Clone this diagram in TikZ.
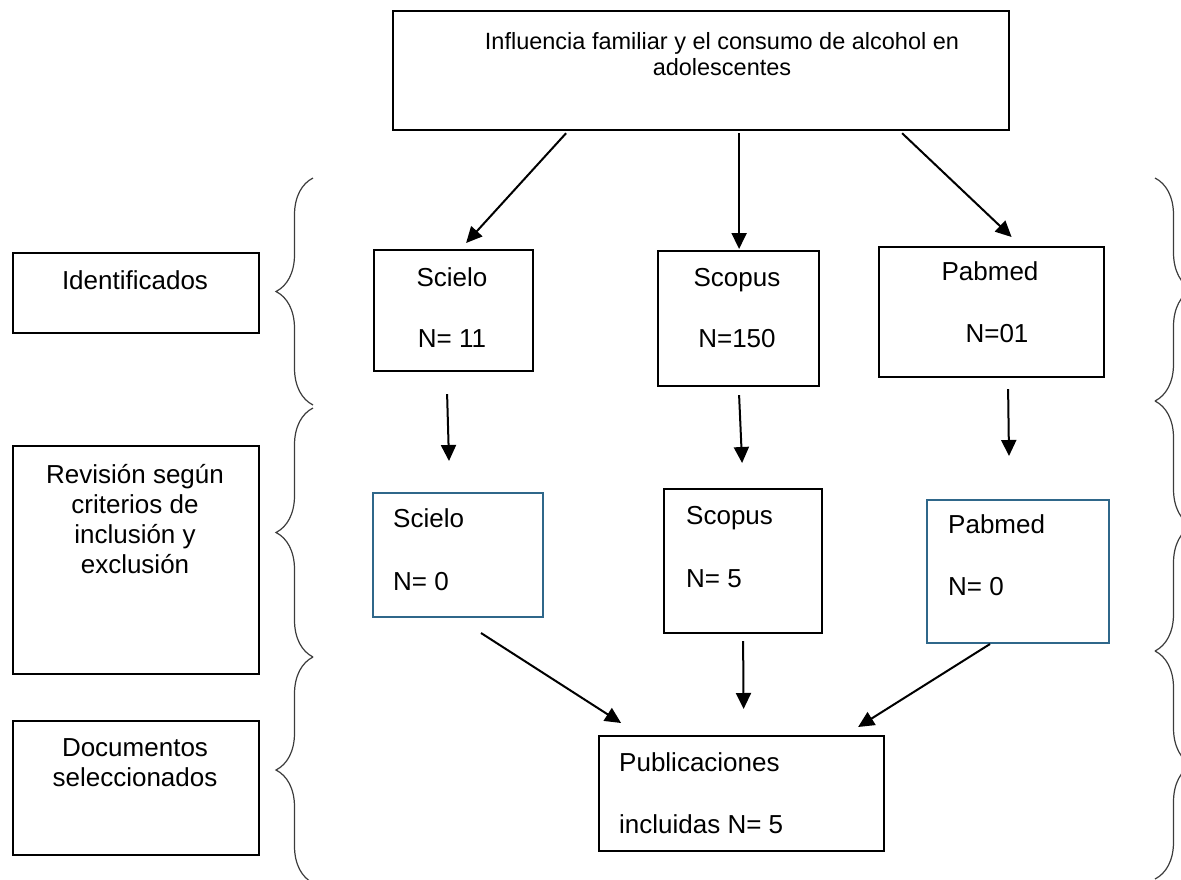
\documentclass[tikz,border=0pt]{standalone}
\usepackage{fontspec}
\setmainfont{Liberation Sans}
\usetikzlibrary{arrows.meta,decorations.pathreplacing}
\definecolor{boxblue}{RGB}{47,103,138}
\definecolor{bracegray}{RGB}{60,60,60}
\tikzset{
  bx/.style={draw=black, line width=2.2pt, fill=none, inner sep=0pt, anchor=north west},
  bluebx/.style={draw=boxblue, line width=2pt, fill=none, inner sep=0pt, anchor=north west},
  txt/.style={inner sep=0pt, font=\fontsize{26}{30}\selectfont},
  ttxt/.style={inner sep=0pt, font=\fontsize{23.5}{26.5}\selectfont, align=center},
  arr/.style={line width=2pt, -{Triangle[length=16pt,width=15pt]}},
  brc/.style={draw=bracegray, line width=1.2pt, decorate, decoration={brace, amplitude=37pt}}
}
\begin{document}
\begin{tikzpicture}[x=1pt,y=-1pt]
\useasboundingbox (0,0) rectangle (1181,879);
% boxes
\node[bx, minimum width=616pt, minimum height=119pt] (title) at (392,10) {};
\node[bx, minimum width=246pt, minimum height=80pt] (ident) at (12,252) {};
\node[bx, minimum width=246pt, minimum height=228pt] (rev) at (12,445) {};
\node[bx, minimum width=246pt, minimum height=134pt] (doc) at (12,720) {};
\node[bx, minimum width=159pt, minimum height=121pt] (s1) at (373,249) {};
\node[bx, minimum width=161pt, minimum height=135pt] (c1) at (657,250) {};
\node[bx, minimum width=225pt, minimum height=130pt] (p1) at (878,246) {};
\node[bluebx, minimum width=170pt, minimum height=124pt] (s2) at (372,492) {};
\node[bx, minimum width=158pt, minimum height=144pt] (c2) at (663,488) {};
\node[bluebx, minimum width=182pt, minimum height=143pt] (p2) at (926,499) {};
\node[bx, minimum width=285pt, minimum height=115pt] (pub) at (598,735) {};
% texts
\node[ttxt] (titlet) at (722,54) {Influencia familiar y el consumo de alcohol en\\adolescentes};
\node[txt, anchor=base] (identt) at (135,289.5) {Identificados};
\node[txt, align=center] (revt) at (135,519) {Revisión según\\criterios de\\inclusión y\\exclusión};
\node[txt, align=center] (doct) at (135,763) {Documentos\\seleccionados};
\node[txt, anchor=base] (s1a) at (452,286.5) {Scielo};
\node[txt, anchor=base] (s1b) at (452,347.5) {N= 11};
\node[txt, anchor=base] (c1a) at (737,286.5) {Scopus};
\node[txt, anchor=base] (c1b) at (737,347.5) {N=150};
\node[txt, anchor=base] (p1a) at (990,280.5) {Pabmed};
\node[txt, anchor=base] (p1b) at (997,342.5) {N=01};
\node[txt, anchor=base west] (s2a) at (393,527) {Scielo};
\node[txt, anchor=base west] (s2b) at (393,590.5) {N= 0};
\node[txt, anchor=base west] (c2a) at (686,524.5) {Scopus};
\node[txt, anchor=base west] (c2b) at (686,587.5) {N= 5};
\node[txt, anchor=base west] (p2a) at (948,533.5) {Pabmed};
\node[txt, anchor=base west] (p2b) at (948,595.5) {N= 0};
\node[txt, anchor=base west] (puba) at (619,771) {Publicaciones};
\node[txt, anchor=base west] (pubb) at (619,833) {incluidas N= 5};
% arrows
\draw[arr] ([xshift=-135pt,yshift=-2pt]title.south) -- ([xshift=12.5pt,yshift=6pt]s1.north);
\draw[arr] ([xshift=38pt,yshift=-2pt]title.south) -- ([xshift=0.5pt,yshift=1pt]c1.north);
\draw[arr] ([xshift=201pt,yshift=-2pt]title.south) -- ([xshift=20pt,yshift=9pt]p1.north);
\draw[arr] ([xshift=-6.5pt,yshift=-22pt]s1.south) -- ([xshift=-9pt,yshift=31pt]s2.north);
\draw[arr] ([xshift=0.5pt,yshift=-8pt]c1.south) -- ([xshift=-1pt,yshift=25pt]c2.north);
\draw[arr] ([xshift=16.5pt,yshift=-11pt]p1.south) -- ([xshift=-9pt,yshift=43pt]p2.north);
\draw[arr] ([xshift=23pt,yshift=-15pt]s2.south) -- ([xshift=-120.5pt,yshift=12pt]pub.north);
\draw[arr] ([xshift=0pt,yshift=-7pt]c2.south) -- ([xshift=2pt,yshift=26pt]pub.north);
\draw[arr] ([xshift=-28pt,yshift=0pt]p2.south) -- ([xshift=116.5pt,yshift=8pt]pub.north);
% braces
\coordinate (lb1a) at (313,405); \coordinate (lb1b) at (313,178);
\coordinate (lb2a) at (313,657); \coordinate (lb2b) at (313,408);
\coordinate (lb3a) at (313,883); \coordinate (lb3b) at (313,657);
\coordinate (rb1a) at (1155,178); \coordinate (rb1b) at (1155,401);
\coordinate (rb2a) at (1155,401); \coordinate (rb2b) at (1155,651);
\coordinate (rb3a) at (1155,651); \coordinate (rb3b) at (1155,879);
\draw[brc] (lb1a) -- (lb1b);
\draw[brc] (lb2a) -- (lb2b);
\draw[brc] (lb3a) -- (lb3b);
\draw[brc] (rb1a) -- (rb1b);
\draw[brc] (rb2a) -- (rb2b);
\draw[brc] (rb3a) -- (rb3b);
\end{tikzpicture}
\end{document}
